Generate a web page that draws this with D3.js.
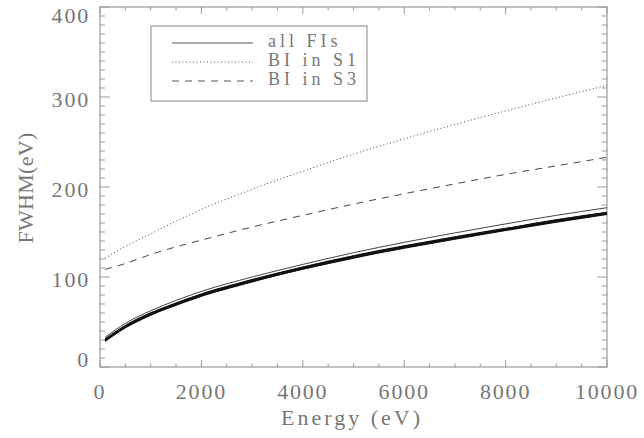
<!DOCTYPE html>
<html>
<head>
<meta charset="utf-8">
<script src="https://cdn.jsdelivr.net/npm/d3@7"></script>
<style>
  body { margin: 0; background: #fff; }
  text { font-family: "Liberation Serif", serif; fill: #777; }
</style>
</head>
<body>
<script>
// Energías (eV) donde se leen las curvas
const energias = [100, 500, 1000, 1500, 2000, 3000, 4000, 5000, 6000, 7000, 8000, 9000, 10000];

// Curvas de los chips FI (banda gruesa)
const fiBanda = [
  [30, 45, 59, 70, 80, 96, 110, 122.5, 133.5, 143.5, 153, 162.5, 171],
  [29, 44, 58, 69, 79, 95, 109, 121.5, 132.5, 142.5, 152, 161.5, 170],
  [30.7, 45.7, 59.7, 70.7, 80.7, 96.7, 110.7, 123.2, 134.2, 144.2, 153.7, 163.2, 171.7],
  [29.5, 44.5, 58.5, 69.5, 79.5, 95.5, 109.5, 122, 133, 143, 152.5, 162, 170.5],
  [28.6, 43.6, 57.6, 68.6, 78.6, 94.6, 108.6, 121, 132, 142, 151.6, 161, 169.6],
  [31.2, 46.2, 60.2, 71.2, 81.2, 97.2, 111.2, 123.6, 134.6, 144.6, 154.1, 163.6, 172]
];
// Curva FI superior (más fina)
const fiSuperior = [33, 48.5, 62.5, 74, 84, 100, 114, 127, 138.5, 149, 159, 168.5, 177];
// BI en S1 y S3
const biS1 = [121, 134, 148, 162, 175, 197.5, 217.5, 236.5, 253.5, 269.5, 284.5, 299, 313];
const biS3 = [108.5, 115, 125, 133.5, 141, 155.5, 168.5, 181, 192.5, 203.5, 214, 223.5, 233];

const xTicks = [0, 2000, 4000, 6000, 8000, 10000];
const yTicks = [0, 100, 200, 300, 400];
const leyenda = [
  { nombre: "all FIs", dash: null },
  { nombre: "BI in S1", dash: "1,2.5" },
  { nombre: "BI in S3", dash: "7,6" }
];

const width = 644, height = 438;
const margin = { left: 100, right: 37, top: 7, bottom: 71 };
const x0 = margin.left, x1 = width - margin.right;
const y0 = height - margin.bottom, y1 = margin.top;

const svg = d3.select("body").append("svg")
  .attr("width", width).attr("height", height);

const x = d3.scaleLinear().domain([0, 10000]).range([x0, x1]);
const y = d3.scaleLinear().domain([0, 400]).range([y0, y1]);

// Caja de los ejes
svg.append("rect")
  .attr("x", x0).attr("y", y1)
  .attr("width", x1 - x0).attr("height", y0 - y1)
  .attr("fill", "none").attr("stroke", "#999").attr("stroke-width", 1.2);

// Marcas del eje X (hacia dentro, abajo y arriba)
const xMinor = d3.range(0, 10001, 500);
xMinor.forEach(v => {
  const major = v % 2000 === 0;
  const len = major ? 7 : 3.5;
  svg.append("line").attr("x1", x(v)).attr("x2", x(v))
    .attr("y1", y0).attr("y2", y0 - len).attr("stroke", "#999");
  svg.append("line").attr("x1", x(v)).attr("x2", x(v))
    .attr("y1", y1).attr("y2", y1 + len).attr("stroke", "#999");
});
// Marcas del eje Y (izquierda y derecha)
const yMinor = d3.range(0, 401, 10);
yMinor.forEach(v => {
  const major = v % 100 === 0;
  const len = major ? 10 : 5;
  svg.append("line").attr("x1", x0).attr("x2", x0 + len)
    .attr("y1", y(v)).attr("y2", y(v)).attr("stroke", "#999");
  svg.append("line").attr("x1", x1).attr("x2", x1 - len)
    .attr("y1", y(v)).attr("y2", y(v)).attr("stroke", "#999");
});

// Etiquetas
svg.selectAll(".xlab").data(xTicks).enter().append("text")
  .attr("x", d => x(d)).attr("y", 399)
  .attr("text-anchor", "middle")
  .attr("font-size", 22).attr("letter-spacing", 1.8)
  .text(d => d);
// el primero y el último se desplazan para quedar dentro
svg.selectAll(".ylab").data(yTicks).enter().append("text")
  .attr("x", 90)
  .attr("y", d => y(d) + (d === 0 ? 0 : d === 400 ? 16 : 10))
  .attr("text-anchor", "end")
  .attr("font-size", 22).attr("letter-spacing", 1.8)
  .text(d => d);

svg.append("text")
  .attr("x", 352).attr("y", 425)
  .attr("text-anchor", "middle")
  .attr("font-size", 22).attr("letter-spacing", 3)
  .text("Energy (eV)");
svg.append("text")
  .attr("transform", "translate(33,188) rotate(-90)")
  .attr("text-anchor", "middle")
  .attr("font-size", 22).attr("letter-spacing", 0.3)
  .text("FWHM(eV)");

// Generador de líneas
const linea = d3.line()
  .x((d, i) => x(energias[i]))
  .y(d => y(d))
  .curve(d3.curveMonotoneX);

const g = svg.append("g");
fiBanda.forEach(serie => {
  g.append("path").attr("d", linea(serie))
    .attr("fill", "none").attr("stroke", "#111").attr("stroke-width", 1.1);
});
g.append("path").attr("d", linea(fiSuperior))
  .attr("fill", "none").attr("stroke", "#444").attr("stroke-width", 1);
g.append("path").attr("d", linea(biS1))
  .attr("fill", "none").attr("stroke", "#444").attr("stroke-width", 1)
  .attr("stroke-dasharray", "1,2.5");
g.append("path").attr("d", linea(biS3))
  .attr("fill", "none").attr("stroke", "#444").attr("stroke-width", 1)
  .attr("stroke-dasharray", "7,6");

// Leyenda
svg.append("rect")
  .attr("x", 151).attr("y", 26).attr("width", 216).attr("height", 75)
  .attr("fill", "white").attr("stroke", "#999").attr("stroke-width", 1.2);
leyenda.forEach((l, i) => {
  const yy = 43 + i * 19;
  svg.append("line").attr("x1", 172).attr("x2", 253)
    .attr("y1", yy).attr("y2", yy)
    .attr("stroke", "#555").attr("stroke-width", 1)
    .attr("stroke-dasharray", l.dash);
  svg.append("text").attr("x", 268).attr("y", yy + 4)
    .attr("font-size", 18).attr("letter-spacing", 4)
    .text(l.nombre);
});
</script>
</body>
</html>
